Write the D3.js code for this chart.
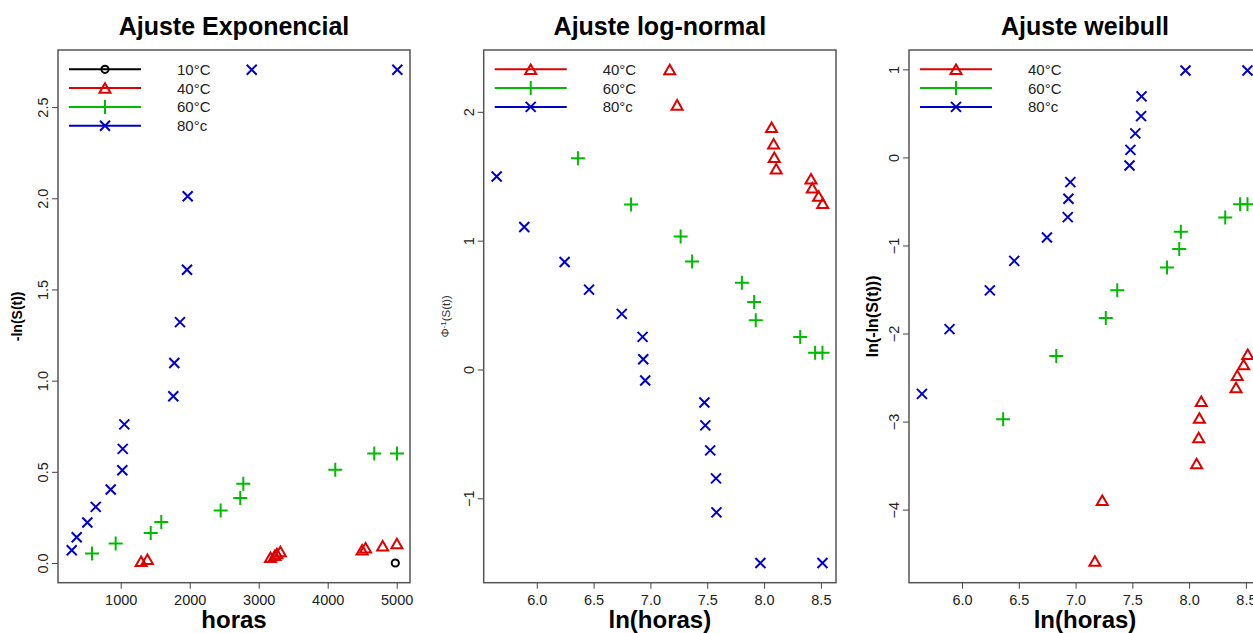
<!DOCTYPE html>
<html>
<head>
<meta charset="utf-8">
<script src="https://cdn.jsdelivr.net/npm/d3@7"></script>
<style>
  html, body { margin: 0; padding: 0; background: #fff; overflow: hidden; }
  svg { display: block; font-family: "Liberation Sans", Arial, sans-serif; }
</style>
</head>
<body>
<div id="chart"></div>
<script>
// ---- datos ----
const temperaturas = ["10°C", "40°C", "60°C", "80°c"];

// panel 1: horas vs -ln(S(t))
const horas10 = [4980];
const expo10 = [0];
const horas40 = [1296, 1387, 3171, 3235, 3264, 3314, 4499, 4549, 4797, 5003];
const expo40 = [0.010, 0.020, 0.031, 0.042, 0.052, 0.063, 0.073, 0.084, 0.095, 0.107];
const horas60 = [584, 927, 1435, 1588, 2449, 2733, 2777, 4110, 4675, 5004];
const expo60 = [0.052, 0.107, 0.165, 0.225, 0.288, 0.357, 0.434, 0.511, 0.601, 0.601];
const horas80 = [290, 362, 516, 638, 855, 1023, 1029, 1052, 1762, 1777, 1859, 1961, 1971, 2899, 5009];
const expo80 = [0.070, 0.141, 0.222, 0.308, 0.403, 0.509, 0.626, 0.760, 0.914, 1.097, 1.321, 1.608, 2.011, 2.705, 2.705];

// paneles 2 y 3: ln(horas)
const lnHoras40 = [7.170, 7.235, 8.066, 8.084, 8.090, 8.107, 8.413, 8.424, 8.480, 8.516];
const lnHoras60 = [6.362, 6.830, 7.266, 7.367, 7.805, 7.913, 7.927, 8.318, 8.449, 8.514];
const lnHoras80 = [5.647, 5.890, 6.245, 6.460, 6.748, 6.931, 6.937, 6.954, 7.475, 7.483, 7.526, 7.577, 7.581, 7.968, 8.514];

// panel 2: Phi^-1(S(t))
const lognorm40 = [2.328, 2.054, 1.881, 1.752, 1.648, 1.558, 1.481, 1.411, 1.346, 1.291];
const lognorm60 = [1.640, 1.281, 1.033, 0.839, 0.674, 0.524, 0.382, 0.253, 0.129, 0.129];
const lognorm80 = [1.498, 1.106, 0.834, 0.620, 0.432, 0.253, 0.080, -0.085, -0.256, -0.434, -0.628, -0.845, -1.109, -1.502, -1.502];

// panel 3: ln(-ln(S(t)))
const weibull40 = [-4.584, -3.894, -3.477, -3.182, -2.959, -2.769, -2.614, -2.474, -2.352, -2.235];
const weibull60 = [-2.974, -2.254, -1.823, -1.508, -1.250, -1.039, -0.845, -0.682, -0.531, -0.531];
const weibull80 = [-2.685, -1.950, -1.510, -1.175, -0.909, -0.678, -0.470, -0.281, -0.091, 0.086, 0.273, 0.469, 0.693, 0.988, 0.988];

const ticksHoras = [1000, 2000, 3000, 4000, 5000];
const ticksLn = [6.0, 6.5, 7.0, 7.5, 8.0, 8.5];
const ticksExpo = [0, 0.5, 1.0, 1.5, 2.0, 2.5];
const ticksLognorm = [-1, 0, 1, 2];
const ticksWeibull = [-4, -3, -2, -1, 0, 1];

const colores = {"10°C": "#000000", "40°C": "#e00000", "60°C": "#00bb00", "80°c": "#0000cc"};
const simbolos = {"10°C": "circle", "40°C": "triangle", "60°C": "plus", "80°c": "cross"};

const W = 1253, H = 633;
const svg = d3.select("#chart").append("svg")
  .attr("width", W)
  .attr("height", H);

function marker(g, tipo, color) {
  if (tipo == "circle") {
    g.append("circle").attr("r", 3.6)
      .attr("fill", "none").attr("stroke", color).attr("stroke-width", 2);
  } else if (tipo == "triangle") {
    let s = 11, h = s * 0.866;
    g.append("path")
      .attr("d", `M0,${-h/2}L${s/2},${h/2}L${-s/2},${h/2}Z`)
      .attr("fill", "none").attr("stroke", color).attr("stroke-width", 2);
  } else if (tipo == "plus") {
    g.append("path").attr("d", "M-7,0H7M0,-7V7")
      .attr("stroke", color).attr("stroke-width", 2);
  } else {
    g.append("path").attr("d", "M-5,-5L5,5M-5,5L5,-5")
      .attr("stroke", color).attr("stroke-width", 2);
  }
}

function panel(cfg) {
  let top = 50, bottom = 582.7;
  let x = d3.scaleLinear().domain(cfg.xDomain).range([cfg.left, cfg.right]);
  let y = d3.scaleLinear().domain(cfg.yDomain).range([bottom, top]);
  let g = svg.append("g");

  // titulo
  g.append("text")
    .attr("x", (cfg.left + cfg.right) / 2)
    .attr("y", 35)
    .attr("text-anchor", "middle")
    .attr("font-size", "25px")
    .attr("font-weight", "bold")
    .text(cfg.title);

  // eje x
  g.append("g")
    .attr("transform", `translate(0,${bottom})`)
    .call(d3.axisBottom(x).tickValues(cfg.xTicks).tickFormat(cfg.xFmt).tickSize(6).tickPadding(6))
    .call(a => a.select(".domain").remove())
    .call(a => a.selectAll("line").attr("stroke", "#444"))
    .call(a => a.selectAll("text").attr("font-size", "14.5px").attr("fill", "#222")
      .attr("font-family", "Liberation Sans, Arial, sans-serif"));

  // eje y, etiquetas paralelas al eje
  g.append("g")
    .attr("transform", `translate(${cfg.left},0)`)
    .call(d3.axisLeft(y).tickValues(cfg.yTicks).tickFormat(cfg.yFmt).tickSize(6))
    .call(a => a.select(".domain").remove())
    .call(a => a.selectAll("line").attr("stroke", "#444"))
    .call(a => a.selectAll("text")
      .attr("x", 0).attr("y", -10).attr("dy", 0)
      .attr("transform", "rotate(-90)")
      .attr("text-anchor", "middle")
      .attr("font-size", "14.5px").attr("fill", "#222")
      .attr("font-family", "Liberation Sans, Arial, sans-serif"));

  // caja
  g.append("rect")
    .attr("x", cfg.left).attr("y", top)
    .attr("width", cfg.right - cfg.left).attr("height", bottom - top)
    .attr("fill", "none").attr("stroke", "#555").attr("stroke-width", 1.5);

  // titulos de ejes
  g.append("text")
    .attr("x", (cfg.left + cfg.right) / 2)
    .attr("y", 628)
    .attr("text-anchor", "middle")
    .attr("font-size", "24px")
    .attr("font-weight", "bold")
    .text(cfg.xlab);

  let yl = g.append("text")
    .attr("transform", `translate(${cfg.ylabX},${(top + bottom) / 2}) rotate(-90)`)
    .attr("text-anchor", "middle")
    .attr("font-size", cfg.ylabSize)
    .attr("font-weight", cfg.ylabWeight)
    .attr("fill", cfg.ylabColor || "#000");
  cfg.ylab(yl);

  // puntos
  cfg.series.forEach(s => {
    g.append("g").selectAll("g")
      .data(d3.zip(s.x, s.y))
      .join("g")
      .attr("transform", d => `translate(${x(d[0])},${y(d[1])})`)
      .each(function() { marker(d3.select(this), simbolos[s.key], colores[s.key]); });
  });

  // leyenda
  let lg = g.append("g");
  cfg.legend.forEach((k, i) => {
    let ly = 69.3 + i * 18.8;
    lg.append("line")
      .attr("x1", cfg.left + 11).attr("x2", cfg.left + 83)
      .attr("y1", ly).attr("y2", ly)
      .attr("stroke", colores[k]).attr("stroke-width", 2);
    let m = lg.append("g").attr("transform", `translate(${cfg.left + 47},${ly})`);
    marker(m, simbolos[k], colores[k]);
    lg.append("text")
      .attr("x", cfg.left + 119).attr("y", ly + 5.5)
      .attr("font-size", "15px")
      .attr("fill", "#222")
      .text(k);
  });
}

panel({
  left: 58, right: 410,
  xDomain: [91, 5193], yDomain: [-0.108, 2.813],
  xTicks: ticksHoras, yTicks: ticksExpo,
  xFmt: d3.format("d"), yFmt: d3.format(".1f"),
  title: "Ajuste Exponencial", xlab: "horas",
  ylabX: 22, ylabSize: "14px", ylabWeight: "bold",
  ylab: t => t.text("-ln(S(t))"),
  series: [
    {key: "10°C", x: horas10, y: expo10},
    {key: "40°C", x: horas40, y: expo40},
    {key: "60°C", x: horas60, y: expo60},
    {key: "80°c", x: horas80, y: expo80}
  ],
  legend: temperaturas
});

panel({
  left: 483.7, right: 836,
  xDomain: [5.533, 8.633], yDomain: [-1.655, 2.48],
  xTicks: ticksLn, yTicks: ticksLognorm,
  xFmt: d3.format(".1f"), yFmt: d3.format("d"),
  title: "Ajuste log-normal", xlab: "ln(horas)",
  ylabX: 449, ylabSize: "11.5px", ylabWeight: "normal", ylabColor: "#333",
  ylab: t => {
    t.append("tspan").text("Φ");
    t.append("tspan").attr("dy", "-0.4em").attr("font-size", "8px").text("-1");
    t.append("tspan").attr("dy", "0.4em").text("(S(t))");
  },
  series: [
    {key: "40°C", x: lnHoras40, y: lognorm40},
    {key: "60°C", x: lnHoras60, y: lognorm60},
    {key: "80°c", x: lnHoras80, y: lognorm80}
  ],
  legend: temperaturas.slice(1)
});

panel({
  left: 909, right: 1261,
  xDomain: [5.533, 8.633], yDomain: [-4.83, 1.22],
  xTicks: ticksLn, yTicks: ticksWeibull,
  xFmt: d3.format(".1f"), yFmt: d3.format("d"),
  title: "Ajuste weibull", xlab: "ln(horas)",
  ylabX: 878, ylabSize: "16px", ylabWeight: "bold",
  ylab: t => t.text("ln(-ln(S(t)))"),
  series: [
    {key: "40°C", x: lnHoras40, y: weibull40},
    {key: "60°C", x: lnHoras60, y: weibull60},
    {key: "80°c", x: lnHoras80, y: weibull80}
  ],
  legend: temperaturas.slice(1)
});
</script>
</body>
</html>
